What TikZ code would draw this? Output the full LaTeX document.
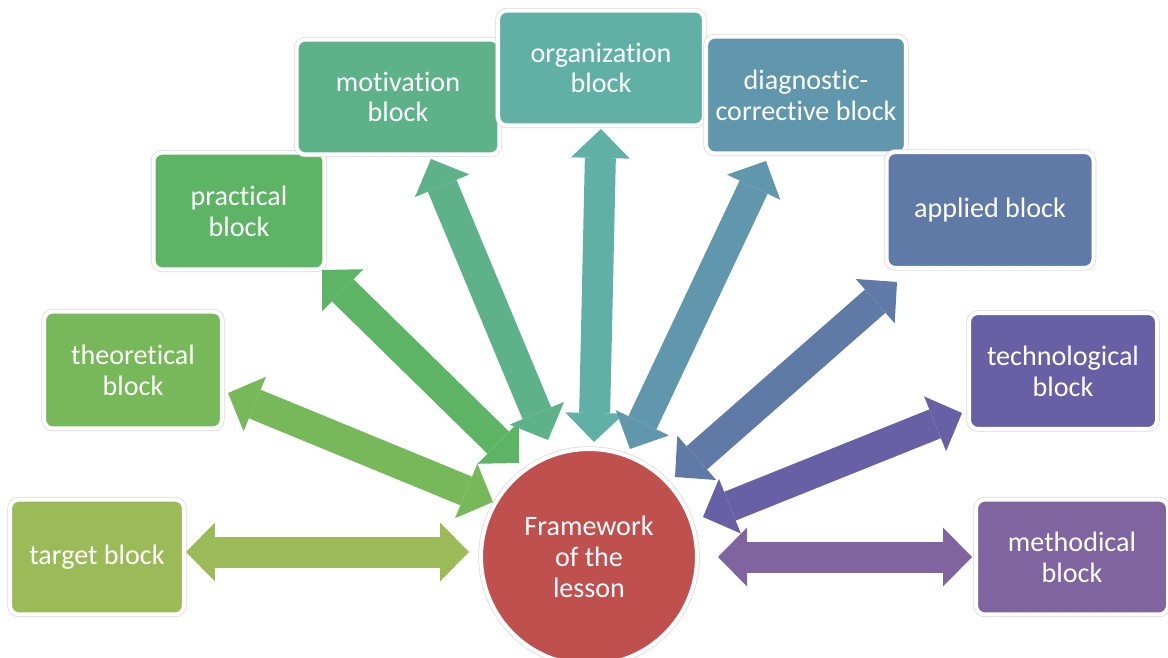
\documentclass[tikz,border=0pt]{standalone}
\usepackage{fontspec}
\setmainfont[Ligatures=NoCommon]{Carlito}
\usetikzlibrary{arrows.meta}

\definecolor{cTarget}{HTML}{9BBB59}
\definecolor{cTheory}{HTML}{77B85A}
\definecolor{cPractice}{HTML}{5DB465}
\definecolor{cMotiv}{HTML}{5EB28A}
\definecolor{cOrgan}{HTML}{60B0A6}
\definecolor{cDiagn}{HTML}{6097AC}
\definecolor{cApplied}{HTML}{607AA8}
\definecolor{cTechno}{HTML}{6860A5}
\definecolor{cMethod}{HTML}{8064A0}
\definecolor{cFrame}{HTML}{C0504D}

\begin{document}
\begin{tikzpicture}[x=0.02cm,y=-0.02cm,
  block/.style={rectangle, rounded corners=0.18cm, inner sep=0pt,
    draw=white, line width=0.08cm, text=white, align=center,
    font=\fontsize{16}{17.5}\selectfont,
    preaction={draw=gray!30, line width=0.11cm}},
  dblarrow/.style={line width=0.62cm,
    {Triangle[width=1.18cm,length=0.58cm,line width=0pt]}-{Triangle[width=1.18cm,length=0.58cm,line width=0pt]}}]

\clip (0,0) rectangle (1168,658);

% Centre of the lesson
\node[block, circle, fill=cFrame, minimum size=4.32cm] (frame) at (589,557) {Framework\\of the\\lesson};

% Arrow end points
\coordinate (a1) at (186,552);  \coordinate (b1) at (469,552);
\coordinate (a2) at (228,393);  \coordinate (b2) at (493,502);
\coordinate (a3) at (322,270);  \coordinate (b3) at (519,463);
\coordinate (a4) at (431,159);  \coordinate (b4) at (548,440);
\coordinate (a5) at (601,129);  \coordinate (b5) at (594,442);
\coordinate (a6) at (766,161);  \coordinate (b6) at (630,449);
\coordinate (a7) at (897,282);  \coordinate (b7) at (675,477);
\coordinate (a8) at (962,413);  \coordinate (b8) at (703,517);
\coordinate (a9) at (972,557);  \coordinate (b9) at (718,557);

% Double arrows
\draw[dblarrow, cTarget] (a1) -- (b1);
\draw[dblarrow, cTheory] (a2) -- (b2);
\draw[dblarrow, cPractice] (a3) -- (b3);
\draw[dblarrow, cMotiv] (a4) -- (b4);
\draw[dblarrow, cOrgan] (a5) -- (b5);
\draw[dblarrow, cDiagn] (a6) -- (b6);
\draw[dblarrow, cApplied] (a7) -- (b7);
\draw[dblarrow, cTechno] (a8) -- (b8);
\draw[dblarrow, cMethod] (a9) -- (b9);

% Blocks
\node[block, fill=cTarget, minimum width=3.48cm, minimum height=2.30cm] (target) at (97,557) {target block};
\node[block, fill=cTheory, minimum width=3.56cm, minimum height=2.34cm] (theory) at (133,370) {theoretical\\block};
\node[block, fill=cPractice, minimum width=3.42cm, minimum height=2.34cm] (practice) at (239,211) {practical\\block};
\node[block, fill=cMotiv, minimum width=4.06cm, minimum height=2.30cm] (motiv) at (398,97) {motivation\\block};
\node[block, fill=cOrgan, minimum width=4.12cm, minimum height=2.30cm] (organ) at (601,68) {organization\\block};
\node[block, fill=cDiagn, minimum width=4.00cm, minimum height=2.34cm] (diagn) at (806,95) {diagnostic-\\corrective block};
\node[block, fill=cApplied, minimum width=4.14cm, minimum height=2.32cm] (applied) at (990,210) {applied block};
\node[block, fill=cTechno, minimum width=3.76cm, minimum height=2.32cm] (techno) at (1063,371) {technological\\block};
\node[block, fill=cMethod, minimum width=3.84cm, minimum height=2.30cm] (method) at (1072,557) {methodical\\block};
\end{tikzpicture}
\end{document}
